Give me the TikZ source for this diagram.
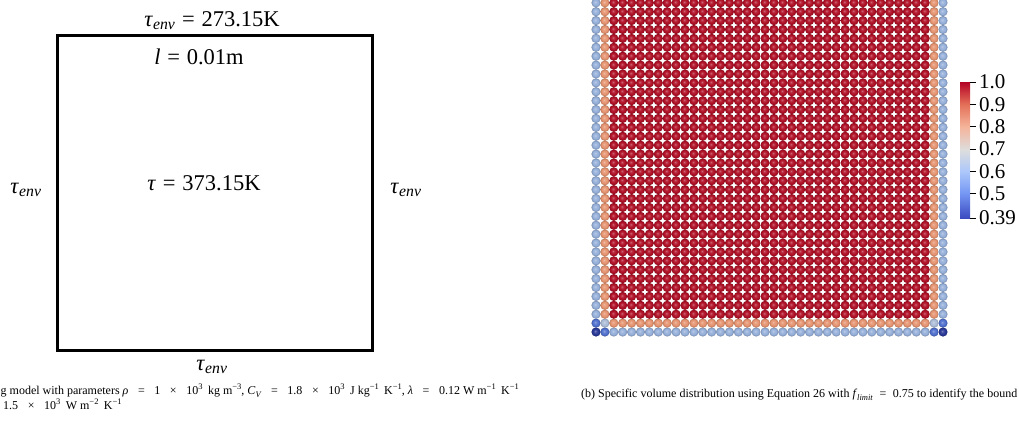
\documentclass[tikz,border=0pt]{standalone}
\usepackage{fontspec}
\setmainfont{Liberation Serif}
\newcommand\tenv{\textit{τ}\textsubscript{\textit{env}}}
\newcommand\sups[1]{\raisebox{0.4em}{\fontsize{8.5}{9}\selectfont #1}}
\newcommand\subs[1]{\raisebox{-0.25em}{\fontsize{8.5}{9}\selectfont #1}}
\newcommand\bop[1]{\hspace{0.3em}#1\hspace{0.3em}}
\newcommand\cop[1]{\hspace{0.8em}#1\hspace{0.8em}}
\newcommand\dop[1]{\hspace{0.55em}#1\hspace{0.55em}}
% particle colours
\definecolor{pc0}{RGB}{40,55,150}
\definecolor{pc1}{RGB}{80,112,205}
\definecolor{pc2}{RGB}{150,176,218}
\definecolor{pc3}{RGB}{80,112,205}
\definecolor{pc4}{RGB}{172,188,215}
\definecolor{pc5}{RGB}{230,148,112}
\definecolor{pc6}{RGB}{150,176,218}
\definecolor{pc7}{RGB}{230,148,112}
\definecolor{pc8}{RGB}{176,16,38}
% colour bar (cool to warm)
\definecolor{cw0}{RGB}{59,76,192}
\definecolor{cw1}{RGB}{117,150,243}
\definecolor{cw2}{RGB}{173,200,250}
\definecolor{cw3}{RGB}{221,221,221}
\definecolor{cw4}{RGB}{244,180,154}
\definecolor{cw5}{RGB}{228,111,88}
\definecolor{cw6}{RGB}{180,4,38}
\colorlet{sphcol}{red}
\pgfdeclareradialshading[sphcol]{sphere}{\pgfpoint{-5bp}{5bp}}{%
  color(0bp)=(sphcol!60!white); color(7bp)=(sphcol!90!white);
  color(16bp)=(sphcol); color(27bp)=(sphcol!72!black); color(40bp)=(sphcol!72!black)}
\pgfdeclareverticalshading{cbar}{100bp}{%
  color(0bp)=(cw0); color(25bp)=(cw0); color(34.02bp)=(cw1); color(42.21bp)=(cw2);
  color(50bp)=(cw3); color(58.61bp)=(cw4); color(66.8bp)=(cw5); color(75bp)=(cw6); color(100bp)=(cw6)}
\tikzset{
  bigtext/.style={font=\fontsize{22.5}{26}\selectfont, inner sep=0pt},
  captext/.style={font=\fontsize{12}{14}\selectfont, inner sep=0pt},
  ticklab/.style={font=\fontsize{21}{24}\selectfont, inner sep=0pt, anchor=west},
  plate/.style={draw=black, line width=3pt, inner sep=0pt},
}
\begin{document}
\begin{tikzpicture}[x=1pt,y=-1pt]
\useasboundingbox (0,0) rectangle (1019,423);
% ---------- panel (a) ----------
\node[plate, minimum width=315pt, minimum height=315pt] (box) at (214.5,192.5) {};
\node[bigtext, anchor=base] (ttop) at (212,26) {\tenv\bop{=}273.15K};
\node[bigtext, anchor=base] (len) at (199,64) {\textit{l}\bop{=}0.01m};
\node[bigtext, anchor=base] (tin) at (204,190) {\textit{τ}\bop{=}373.15K};
\node[bigtext, anchor=base] (tleft) at (26,193) {\tenv};
\node[bigtext, anchor=base] (tright) at (406,193) {\tenv};
\node[bigtext, anchor=base] (tbot) at (212,370) {\tenv};
\node[captext, anchor=base west] (capa1) at (0.5,394) {g model with parameters \textit{ρ}\cop{=}1\cop{×}10\sups{3}\hspace{0.45em}kg m\sups{−3}, \textit{C}\subs{\textit{V}}\cop{=}1.8\cop{×}10\sups{3}\hspace{0.45em}J kg\sups{−1}\hspace{0.45em}K\sups{−1}, \textit{λ}\cop{=}0.12 W m\sups{−1}\hspace{0.45em}K\sups{−1}};
\node[captext, anchor=base west] (capa2) at (3,409) {1.5\cop{×}10\sups{3}\hspace{0.45em}W m\sups{−2}\hspace{0.45em}K\sups{−1}};
% ---------- panel (b) ----------
\begin{scope}
\clip (0,0) rectangle (1019,423);
\foreach \i in {0,...,39}{
  \foreach \j in {0,...,37}{
    \pgfmathtruncatemacro\aa{min(min(\i,39-\i),2)}
    \pgfmathtruncatemacro\bb{min(min(\j,39-\j),2)}
    \pgfmathtruncatemacro\kk{3*\aa+\bb}
    \colorlet{sphcol}{pc\kk}
    \shade[shading=sphere] ({596+8.897*\i},{332-8.897*\j}) circle[radius=4.6pt];
  }
}
\end{scope}
% colour bar
\shade[shading=cbar] (960,82) rectangle (970,218);
\foreach \v/\y in {1.0/82,0.9/104.3,0.8/126.6,0.7/148.9,0.6/171.2,0.5/193.5,0.39/218}{
  \draw[line width=0.8pt] (970,\y) -- (975.5,\y);
  \node[ticklab] at (979,\y) {\v};
}
\node[captext, anchor=base west] (capb) at (581,397) {(b) Specific volume distribution using Equation 26 with \textit{f}\subs{\textit{limit}}\dop{=}0.75 to identify the bound};
\end{tikzpicture}
\end{document}
